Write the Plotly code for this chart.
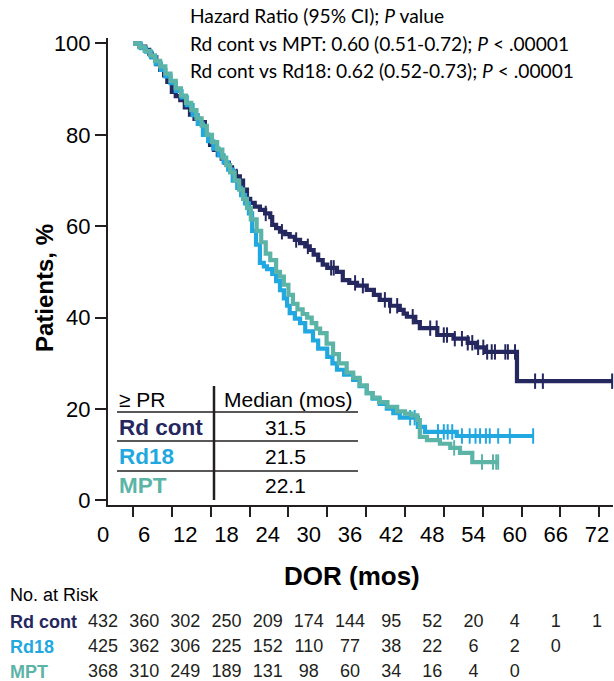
import plotly.graph_objects as go

# ---- Kaplan-Meier data: duration of response (months) vs. patients (%) ----
rdcont_t = [0, 1.0, 1.9, 2.5, 2.9, 3.6, 4.2, 4.8, 5.3, 6.0,
            6.6, 7.3, 8.0, 8.8, 9.5, 10.3, 11.1, 11.6, 11.9, 12.5,
            13.1, 13.7, 14.2, 14.8, 15.3, 15.9, 16.5, 17.0, 17.6, 18.1,
            18.8, 19.6, 20.4, 21.2, 21.5, 22.1, 22.7, 23.5, 24.2, 25.0,
            25.8, 26.6, 27.3, 27.9, 28.6, 29.3, 30.0, 31.5, 32.4, 33.4,
            34.6, 36.1, 37.2, 38.1, 39.7, 41.2, 41.8, 42.3, 43.6, 44.3,
            47.0, 49.5, 51.7, 53.0, 54.4, 59.3]
rdcont_s = [100, 99.3, 98.6, 97.8, 97.0, 95.5, 94.2, 93.0, 91.6, 89.4,
            88.5, 87.6, 86.0, 84.4, 83.5, 82.8, 80.0, 79.0, 77.8, 76.7,
            75.6, 74.8, 73.9, 72.9, 71.9, 70.9, 70.0, 68.0, 66.0, 65.1,
            64.3, 63.6, 62.8, 62.0, 60.3, 59.6, 58.8, 58.3, 57.7, 57.0,
            56.3, 55.6, 54.8, 53.8, 52.6, 51.6, 50.9, 50.0, 48.2, 47.6,
            47.0, 46.1, 45.0, 43.9, 42.6, 41.7, 40.9, 40.2, 39.0, 37.7,
            36.2, 35.4, 34.5, 33.5, 32.5, 26.1]
rdcont_cens = [16.0, 20.5, 23.0, 25.2, 27.0, 30.6, 31.0, 34.3, 35.5, 38.9,
               39.7, 40.8, 43.2, 45.9, 46.9, 48.0, 48.5, 49.7, 50.8, 51.7,
               52.4, 53.3, 54.1, 54.7, 55.4, 55.9, 57.5, 57.9, 59.0, 62.1,
               63.3, 74.0]

rd18_t = [0, 1.2, 2.0, 2.8, 3.5, 4.3, 5.0, 5.8, 6.6, 7.5,
          8.3, 9.2, 10.0, 10.8, 11.6, 12.4, 13.2, 14.0, 14.7, 15.4,
          16.1, 16.7, 17.3, 17.9, 18.4, 19.0, 19.6, 20.2, 20.7, 21.5,
          22.1, 22.7, 23.3, 23.8, 24.2, 25.0, 25.8, 26.6, 27.8, 28.6,
          30.0, 30.8, 31.5, 32.6, 34.0, 35.0, 36.1, 37.0, 38.1, 39.2,
          40.2, 41.2, 44.0, 45.1, 50.0]
rd18_s = [100, 99.0, 98.2, 97.0, 95.6, 94.2, 92.8, 91.3, 89.6, 88.2,
          86.5, 84.3, 82.4, 80.0, 78.6, 77.0, 75.5, 74.0, 72.4, 70.0,
          68.4, 66.8, 65.0, 62.8, 59.0, 56.0, 52.0, 51.2, 50.6, 49.6,
          48.0, 46.0, 44.2, 42.6, 41.0, 39.8, 38.8, 37.0, 35.0, 33.2,
          31.4, 30.0, 28.6, 27.5, 26.4, 25.0, 23.5, 22.3, 21.1, 20.1,
          19.1, 18.1, 16.1, 15.0, 14.1]
rd18_cens = [42.8, 43.5, 47.1, 48.0, 48.6, 49.3, 50.8, 52.0, 52.9, 53.6,
             54.5, 55.1, 56.4, 58.2, 61.8]

mpt_t = [0, 1.0, 1.8, 2.6, 3.4, 4.2, 5.0, 5.8, 6.6, 7.4,
         8.2, 9.0, 9.8, 10.6, 11.4, 12.2, 13.0, 13.8, 14.4, 15.0,
         15.7, 16.4, 17.0, 17.6, 18.2, 19.1, 19.8, 20.5, 21.2, 22.1,
         22.7, 23.3, 24.0, 24.7, 25.4, 26.2, 26.9, 27.6, 28.3, 28.9,
         29.9, 30.9, 31.8, 33.0, 34.0, 35.0, 36.1, 37.0, 38.0, 39.3,
         40.8, 42.0, 43.0, 43.9, 44.3, 45.4, 47.4, 49.0, 50.5, 52.4]
mpt_s = [100, 99.2, 98.4, 97.4, 96.2, 95.0, 93.4, 91.8, 90.2, 88.6,
         87.0, 85.4, 83.6, 82.0, 80.0, 78.4, 76.8, 75.0, 73.4, 71.8,
         70.0, 68.0, 66.0, 64.0, 61.5, 59.0, 56.5, 54.0, 52.6, 50.0,
         49.0, 47.2, 45.0, 43.0, 41.8, 40.8, 40.0, 38.8, 37.6, 36.6,
         34.3, 32.0, 30.0, 28.0, 26.8, 25.2, 23.5, 22.5, 21.5, 20.5,
         19.5, 19.0, 18.6, 17.6, 13.9, 13.2, 12.4, 11.5, 10.4, 8.4]
mpt_cens = [49.6, 53.9, 55.6, 56.1, 56.4]

# ---- Table content ----
arm_names = ["Rd cont", "Rd18", "MPT"]
arm_medians = ["31.5", "21.5", "22.1"]
risk_times = [0, 6, 12, 18, 24, 30, 36, 42, 48, 54, 60, 66, 72]
rdcont_risk = [432, 360, 302, 250, 209, 174, 144, 95, 52, 20, 4, 1, 1]
rd18_risk = [425, 362, 306, 225, 152, 110, 77, 38, 22, 6, 2, 0]
mpt_risk = [368, 310, 249, 189, 131, 98, 60, 34, 16, 4, 0]
x_ticks = [0, 6, 12, 18, 24, 30, 36, 42, 48, 54, 60, 66, 72]
y_ticks = [0, 20, 40, 60, 80, 100]
hr_lines = [
    "Hazard Ratio (95% CI); <i>P</i> value",
    "Rd cont vs MPT: 0.60 (0.51-0.72); <i>P</i> < .00001",
    "Rd cont vs Rd18: 0.62 (0.52-0.73); <i>P</i> < .00001",
]

# ---- styling ----
W, H = 614, 681
NAVY, BLUE, TEAL = "#25275F", "#22A8E0", "#5CB4A6"
INK = "#231F20"
ARIAL = "Arial, Liberation Sans, sans-serif"
COLORS = [NAVY, BLUE, TEAL]


def fx(px):
    return px / W


def fy(py):
    return 1 - py / H


def surv_at(times, surv, t):
    val = surv[0]
    for ti, si in zip(times, surv):
        if ti <= t:
            val = si
        else:
            break
    return val


fig = go.Figure()

arms = [
    (rdcont_t, rdcont_s, rdcont_cens, NAVY),
    (rd18_t, rd18_s, rd18_cens, BLUE),
    (mpt_t, mpt_s, mpt_cens, TEAL),
]
for t, s, cens, col in arms:
    end = max(cens)
    fig.add_trace(go.Scatter(
        x=t + [end], y=s + [s[-1]], mode="lines",
        line=dict(shape="hv", width=4.2, color=col),
        hoverinfo="skip", showlegend=False, cliponaxis=False,
    ))
    fig.add_trace(go.Scatter(
        x=cens, y=[surv_at(t, s, c) for c in cens], mode="markers",
        marker=dict(symbol="line-ns", size=11, color=col,
                    line=dict(width=2, color=col)),
        hoverinfo="skip", showlegend=False, cliponaxis=False,
    ))

# number-at-risk rows on the lower axis pair
for row, (counts, col) in enumerate(zip([rdcont_risk, rd18_risk, mpt_risk], COLORS)):
    fig.add_trace(go.Scatter(
        x=risk_times[:len(counts)], y=[3 - row] * len(counts),
        text=[str(c) for c in counts], mode="text",
        textposition="middle center",
        textfont=dict(family=ARIAL, size=18, color=INK),
        xaxis="x2", yaxis="y2", hoverinfo="skip", showlegend=False,
        cliponaxis=False,
    ))

# main axes: 0 months sits at x=133 px, 6.475 px per month
px_per_month = 6.475
x_lo = -(133 - 108) / px_per_month
x_hi = x_lo + (613 - 108) / px_per_month
# label axis: 0 label at x=103 px, 72 label at x=597 px
lab_ppm = (597 - 103) / 72
x2_lo = -103 / lab_ppm
x2_hi = (W - 103) / lab_ppm

fig.update_layout(
    width=W, height=H, autosize=False,
    margin=dict(l=0, r=0, t=0, b=0, pad=0),
    paper_bgcolor="white", plot_bgcolor="white",
    template="none",
    font=dict(family=ARIAL, color=INK),
    xaxis=dict(
        domain=[fx(108), fx(613)], range=[x_lo, x_hi], anchor="y",
        showgrid=False, zeroline=False, showline=True, linecolor=INK, linewidth=2,
        ticks="outside", ticklen=10, tickwidth=2, tickcolor=INK,
        tickvals=x_ticks, showticklabels=False, automargin=False,
    ),
    yaxis=dict(
        domain=[fy(505), fy(38)], range=[-1, 101.2], anchor="x",
        showgrid=False, zeroline=False, showline=True, linecolor=INK, linewidth=2,
        ticks="outside", ticklen=11, tickwidth=2, tickcolor=INK,
        tickvals=y_ticks, tickfont=dict(family=ARIAL, size=22, color="black"),
        automargin=False,
    ),
    xaxis2=dict(
        domain=[0, 1], range=[x2_lo, x2_hi], anchor="free", position=fy(505),
        showgrid=False, zeroline=False, showline=False, ticks="",
        tickvals=x_ticks, ticktext=[str(v) for v in x_ticks],
        tickfont=dict(family=ARIAL, size=22, color="black"),
        ticklabelstandoff=14, automargin=False,
    ),
    yaxis2=dict(
        domain=[0, fy(597)], range=[0.64, 4.0], anchor="x2",
        visible=False, automargin=False,
    ),
)

ann = []
# hazard ratio block
for i, line in enumerate(hr_lines):
    ann.append(dict(x=fx(188), y=fy(16 + 27 * i), xref="paper", yref="paper",
                    text=line, showarrow=False, xanchor="left", yanchor="middle",
                    font=dict(family="Lato, sans-serif", size=19.2, color="black")))

# axis titles
ann.append(dict(x=fx(45), y=fy(288), xref="paper", yref="paper",
                text="<b>Patients, %</b>", textangle=-90, showarrow=False,
                xanchor="center", yanchor="middle",
                font=dict(family=ARIAL, size=24, color="black")))
ann.append(dict(x=fx(352), y=fy(576), xref="paper", yref="paper",
                text="<b>DOR (mos)</b>", showarrow=False,
                xanchor="center", yanchor="middle",
                font=dict(family=ARIAL, size=26, color="black")))

# median table inside the plot
ann.append(dict(x=fx(117), y=fy(399), xref="paper", yref="paper", text="≥ PR",
                showarrow=False, xanchor="left", yanchor="middle",
                font=dict(family=ARIAL, size=21, color="black")))
ann.append(dict(x=fx(222), y=fy(399), xref="paper", yref="paper", text="Median (mos)",
                showarrow=False, xanchor="left", yanchor="middle",
                font=dict(family=ARIAL, size=21, color="black")))
for i, (name, med, col) in enumerate(zip(arm_names, arm_medians, COLORS)):
    yc = 427 + 29 * i
    ann.append(dict(x=fx(117), y=fy(yc), xref="paper", yref="paper",
                    text=f"<b>{name}</b>", showarrow=False, xanchor="left",
                    yanchor="middle", font=dict(family=ARIAL, size=22.5, color=col)))
    ann.append(dict(x=fx(285), y=fy(yc), xref="paper", yref="paper",
                    text=med, showarrow=False, xanchor="center",
                    yanchor="middle", font=dict(family=ARIAL, size=21, color="black")))

# number at risk labels
ann.append(dict(x=fx(8), y=fy(595), xref="paper", yref="paper", text="No. at Risk",
                showarrow=False, xanchor="left", yanchor="middle",
                font=dict(family=ARIAL, size=18, color="black")))
for i, (name, col) in enumerate(zip(arm_names, COLORS)):
    ann.append(dict(x=fx(8), y=fy(622 + 25 * i), xref="paper", yref="paper",
                    text=f"<b>{name}</b>", showarrow=False, xanchor="left",
                    yanchor="middle", font=dict(family=ARIAL, size=18, color=col)))

fig.update_layout(annotations=ann)

shapes = []
for yl in (412, 441, 471):
    shapes.append(dict(type="line", xref="paper", yref="paper",
                       x0=fx(117), x1=fx(358), y0=fy(yl), y1=fy(yl),
                       line=dict(color=INK, width=1.5)))
shapes.append(dict(type="line", xref="paper", yref="paper",
                   x0=fx(214), x1=fx(214), y0=fy(386), y1=fy(500),
                   line=dict(color=INK, width=2.5)))
fig.update_layout(shapes=shapes)

fig.write_html("out.html")
